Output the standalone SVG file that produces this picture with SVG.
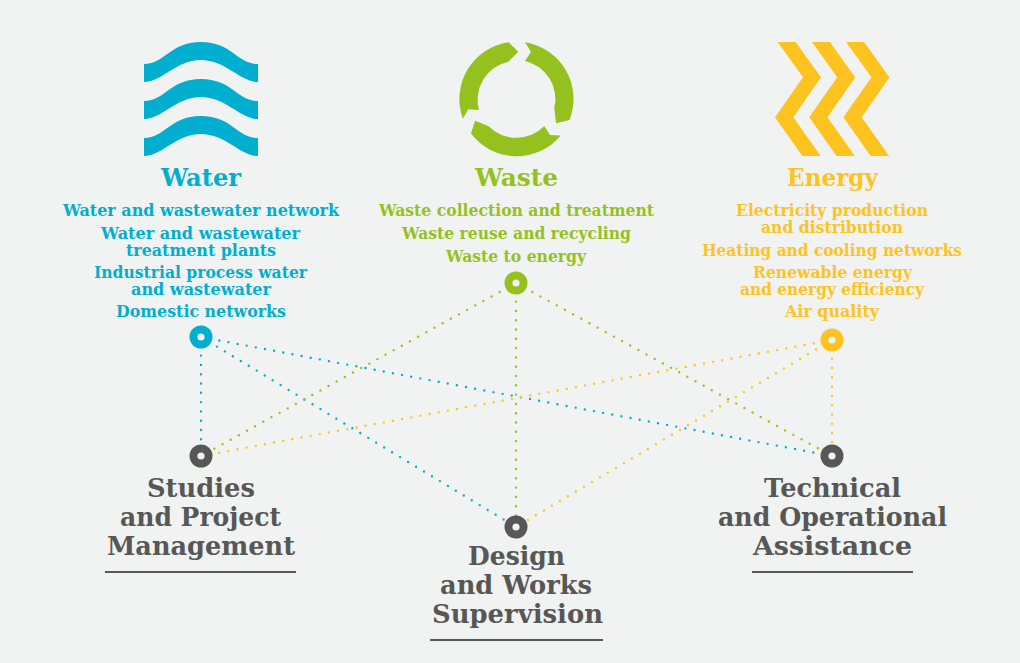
<svg xmlns="http://www.w3.org/2000/svg" width="1020" height="663" viewBox="0 0 1020 663">
<style>
text{font-family:"DejaVu Serif","Liberation Serif",serif;font-weight:700;text-anchor:middle}
.t{font-size:25px}.i{font-size:16px}.b{font-size:26px;fill:#575756}
.w{fill:#00AECF}.g{fill:#95C11F}.y{fill:#FFC31F}
.l{fill:none;stroke-width:2.4;stroke-linecap:round;stroke-dasharray:0 9.3}
.rule{stroke:#575756;stroke-width:2;fill:none}
</style>
<defs>
<path id="wave" d="M144 64C165 64 170 42 201 42C232 42 237 64 258 64V82C240 82 226 60 201 60C176 60 162 82 144 82Z"/>
<path id="chev" d="M777.7 42H795.7L821 77.3L793.3 117.3L820.7 156H802.3L775 117.3L803 77.3Z"/>
<g id="hole"><circle r="3.6" fill="#F1F3F2"/></g>
</defs>
<rect width="1020" height="663" fill="#F1F3F2"/>
<g id="connectors">
<path class="l" stroke="#00AECF" d="M201 337V456M201 337L516 527M201 337L832 456"/>
<path class="l" stroke="#95C11F" d="M516 283L201 456M516 283V527M516 283L832 456"/>
<path class="l" stroke="#FFC31F" d="M832 340L201 456M832 340L516 527M832 340V456"/>
</g>
<g id="water" class="w">
<use href="#wave"/><use href="#wave" y="37"/><use href="#wave" y="74"/>
<text class="t" x="201" y="186" textLength="80" lengthAdjust="spacingAndGlyphs">Water</text>
<text class="i" x="201" y="216" textLength="276" lengthAdjust="spacingAndGlyphs">Water and wastewater network</text>
<text class="i" x="200.500" y="239" textLength="199" lengthAdjust="spacingAndGlyphs">Water and wastewater</text>
<text class="i" x="201" y="256" textLength="150" lengthAdjust="spacingAndGlyphs">treatment plants</text>
<text class="i" x="200.500" y="278" textLength="213" lengthAdjust="spacingAndGlyphs">Industrial process water</text>
<text class="i" x="201" y="295" textLength="140" lengthAdjust="spacingAndGlyphs">and wastewater</text>
<text class="i" x="201" y="317" textLength="170" lengthAdjust="spacingAndGlyphs">Domestic networks</text>
<circle cx="201" cy="337" r="11.500"/><use href="#hole" x="201" y="337"/>
</g>
<g id="waste" class="g">
<path d="M508.600 42.300A57.200 57.200 0 0 0 462.900 118.700L468.300 109.300L479 110A39 39 0 0 1 508.300 61.700L518.300 51.700Z"/>
<path d="M525 42.300A57.200 57.200 0 0 1 569.500 120L556 123.300L554.300 108.300A39 39 0 0 0 525 61L531 51.700Z"/>
<path d="M560.700 135.500A57.200 57.200 0 0 1 471 133.500L475 120.700L488.300 126A39 39 0 0 0 544.300 126L550 135Z"/>
<text class="t" x="516.500" y="186" textLength="83" lengthAdjust="spacingAndGlyphs">Waste</text>
<text class="i" x="516.500" y="216" textLength="275" lengthAdjust="spacingAndGlyphs">Waste collection and treatment</text>
<text class="i" x="516.500" y="239" textLength="229" lengthAdjust="spacingAndGlyphs">Waste reuse and recycling</text>
<text class="i" x="516" y="262" textLength="140" lengthAdjust="spacingAndGlyphs">Waste to energy</text>
<circle cx="516" cy="283" r="11.500"/><use href="#hole" x="516" y="283"/>
</g>
<g id="energy" class="y">
<use href="#chev"/><use href="#chev" x="34.200"/><use href="#chev" x="68.400"/>
<text class="t" x="832.500" y="186" textLength="91" lengthAdjust="spacingAndGlyphs">Energy</text>
<text class="i" x="832" y="216" textLength="192" lengthAdjust="spacingAndGlyphs">Electricity production</text>
<text class="i" x="832" y="233" textLength="142" lengthAdjust="spacingAndGlyphs">and distribution</text>
<text class="i" x="832" y="256" textLength="260" lengthAdjust="spacingAndGlyphs">Heating and cooling networks</text>
<text class="i" x="832.500" y="278" textLength="159" lengthAdjust="spacingAndGlyphs">Renewable energy</text>
<text class="i" x="832" y="295" textLength="184" lengthAdjust="spacingAndGlyphs">and energy efficiency</text>
<text class="i" x="832" y="317" textLength="94" lengthAdjust="spacingAndGlyphs">Air quality</text>
<circle cx="832" cy="340" r="11.500"/><use href="#hole" x="832" y="340"/>
</g>
<g id="studies">
<circle cx="201" cy="456" r="11.500" fill="#575756"/><use href="#hole" x="201" y="456"/>
<text class="b" x="201" y="497" textLength="108" lengthAdjust="spacingAndGlyphs">Studies</text>
<text class="b" x="200.500" y="526" textLength="161" lengthAdjust="spacingAndGlyphs">and Project</text>
<text class="b" x="201" y="555" textLength="188" lengthAdjust="spacingAndGlyphs">Management</text>
<path class="rule" d="M105 572H296"/>
</g>
<g id="design">
<circle cx="516" cy="527" r="11.500" fill="#575756"/><use href="#hole" x="516" y="527"/>
<text class="b" x="516.500" y="565" textLength="97" lengthAdjust="spacingAndGlyphs">Design</text>
<text class="b" x="516" y="594" textLength="152" lengthAdjust="spacingAndGlyphs">and Works</text>
<text class="b" x="517.500" y="623" textLength="171" lengthAdjust="spacingAndGlyphs">Supervision</text>
<path class="rule" d="M430 640H603"/>
</g>
<g id="technical">
<circle cx="832" cy="456" r="11.500" fill="#575756"/><use href="#hole" x="832" y="456"/>
<text class="b" x="832.500" y="497" textLength="137" lengthAdjust="spacingAndGlyphs">Technical</text>
<text class="b" x="832.500" y="526" textLength="229" lengthAdjust="spacingAndGlyphs">and Operational</text>
<text class="b" x="832.500" y="555" textLength="159" lengthAdjust="spacingAndGlyphs">Assistance</text>
<path class="rule" d="M752 572H913"/>
</g>
</svg>
